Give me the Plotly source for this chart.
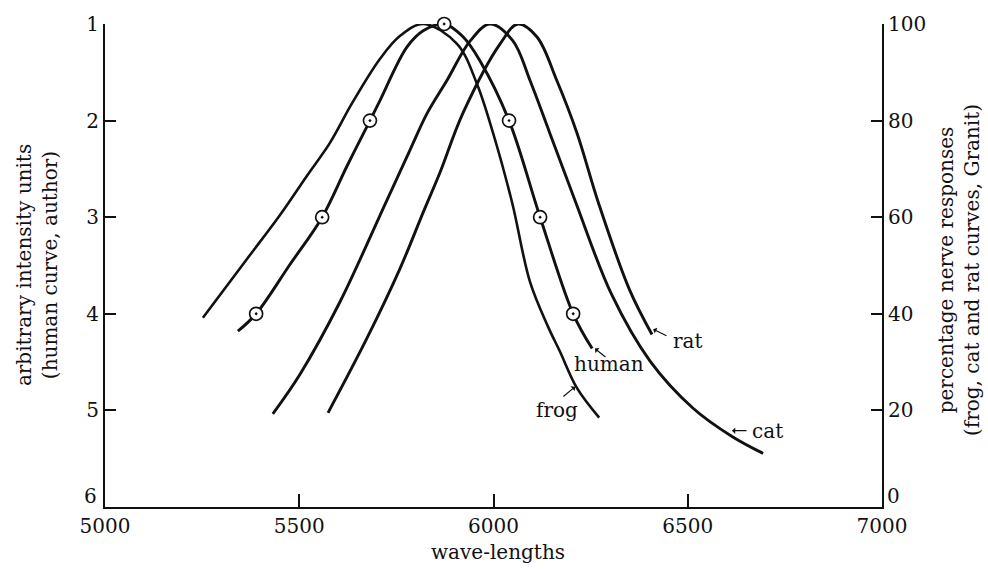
import plotly.graph_objects as go

# ---- data ----
frog_x = [5252, 5365, 5450, 5520, 5579, 5636, 5708, 5759, 5820, 5906, 5957, 5999, 6048, 6094, 6140, 6171, 6215, 6272]
frog_p = [39.2, 51.3, 60.4, 68.6, 75.4, 83.6, 92.8, 97.5, 100, 95.9, 87.7, 77.4, 63, 46.6, 37.4, 32.2, 24.6, 18.5]

human_x = [5342, 5389, 5476, 5559, 5623, 5682, 5708, 5777, 5819, 5873, 5921, 5965, 6040, 6120, 6205, 6254]
human_u = [4.18, 4.0, 3.49, 3.0, 2.47, 2.0, 1.79, 1.24, 1.07, 1.0, 1.13, 1.38, 2.0, 3.0, 4.0, 4.36]

human_pts_x = [5389, 5559, 5682, 5873, 6040, 6120, 6205]
human_pts_u = [4, 3, 2, 1, 2, 3, 4]

cat_x = [5432, 5502, 5605, 5708, 5785, 5829, 5880, 5940, 5991, 6050, 6094, 6145, 6212, 6304, 6403, 6513, 6614, 6694]
cat_p = [19.3, 27.5, 42.5, 60.4, 73.9, 81.5, 88.3, 96.5, 100, 96.5, 88.3, 77.4, 63, 44, 30.2, 20.5, 14.6, 11.1]

rat_x = [5574, 5674, 5759, 5819, 5862, 5921, 6017, 6063, 6112, 6163, 6215, 6270, 6350, 6408]
rat_p = [19.5, 34.9, 49.3, 61, 69.2, 81.5, 95.9, 100, 97.3, 88.3, 77.4, 63, 45, 35.7]

x_ticks = [5000, 5500, 6000, 6500, 7000]
left_ticks = [1, 2, 3, 4, 5, 6]
left_text = ["1", "2", "3", "4", "5", ""]      # "6" placed slightly raised, as in the reference
right_ticks = [0, 20, 40, 60, 80, 100]
right_text = ["", "20", "40", "60", "80", "100"]  # "0" placed slightly raised

# curve labels: (text, text_x, text_y, tip_x, tip_y, tail_x, tail_y, axis)
labels = [
    ("frog", 6163, 20.0, 6210, 24.9, 6176, 22.6, "y2"),
    ("human", 6297, 4.52, 6261, 4.36, 6292, 4.46, "y"),
    ("rat", 6501, 34.3, 6411, 36.8, 6449, 35.3, "y2"),
    ("cat", 6704, 15.8, 6614, 15.8, 6655, 15.8, "y2"),
]

FONT = "DejaVu Serif"
INK = "#111111"

fig = go.Figure()
line_style = dict(color=INK, width=2.9, shape="spline", smoothing=1.0)

fig.add_trace(go.Scatter(x=frog_x, y=frog_p, mode="lines", line=dict(line_style, width=2.6),
                         yaxis="y2", name="frog", cliponaxis=False))
fig.add_trace(go.Scatter(x=cat_x, y=cat_p, mode="lines", line=line_style,
                         yaxis="y2", name="cat", cliponaxis=False))
fig.add_trace(go.Scatter(x=rat_x, y=rat_p, mode="lines", line=line_style,
                         yaxis="y2", name="rat", cliponaxis=False))
fig.add_trace(go.Scatter(x=human_x, y=human_u, mode="lines", line=line_style,
                         yaxis="y", name="human", cliponaxis=False))
fig.add_trace(go.Scatter(x=human_pts_x, y=human_pts_u, mode="markers", yaxis="y",
                         marker=dict(symbol="circle-dot", size=13, color="white",
                                     line=dict(color=INK, width=1.7)),
                         cliponaxis=False))

annotations = []
for text, tx, ty, hx, hy, ax, ay, yr in labels:
    annotations.append(dict(x=tx, y=ty, xref="x", yref=yr, text=text, showarrow=False,
                            font=dict(family=FONT, size=20, color=INK),
                            xanchor="center", yanchor="middle"))
    annotations.append(dict(x=hx, y=hy, xref="x", yref=yr, ax=ax, ay=ay, axref="x", ayref=yr,
                            text="", showarrow=True, arrowhead=1, arrowsize=0.9,
                            arrowwidth=1.2, arrowcolor=INK))

# raised bottom tick labels
annotations.append(dict(x=0, y=6, xref="paper", yref="y", text="6", showarrow=False,
                        xanchor="right", yanchor="bottom", xshift=-6, yshift=-3,
                        font=dict(family=FONT, size=20, color=INK)))
annotations.append(dict(x=1, y=0, xref="paper", yref="y2", text="0", showarrow=False,
                        xanchor="left", yanchor="bottom", xshift=3, yshift=-3,
                        font=dict(family=FONT, size=20, color=INK)))

annotations.append(dict(x=-0.088, y=0.5, xref="paper", yref="paper",
                        text="arbitrary intensity units<br>(human curve, author)",
                        textangle=-90, showarrow=False, xanchor="center", yanchor="middle",
                        font=dict(family=FONT, size=20, color=INK)))
annotations.append(dict(x=1.1, y=0.49, xref="paper", yref="paper",
                        text="percentage nerve responses<br>(frog, cat and rat curves, Granit)",
                        textangle=-90, showarrow=False, xanchor="center", yanchor="middle",
                        font=dict(family=FONT, size=20, color=INK)))
annotations.append(dict(x=0.506, y=-0.094, xref="paper", yref="paper",
                        text="wave-lengths", showarrow=False, xanchor="center", yanchor="middle",
                        font=dict(family=FONT, size=20, color=INK)))

axis_common = dict(showgrid=False, zeroline=False, showline=True, linecolor=INK, linewidth=2,
                   ticks="inside", tickcolor=INK, tickwidth=1.5,
                   tickfont=dict(family=FONT, size=20, color=INK))

fig.update_layout(
    width=988, height=569,
    margin=dict(l=105, r=106, t=20, b=62),
    paper_bgcolor="white", plot_bgcolor="white",
    showlegend=False,
    xaxis=dict(axis_common, range=[5000, 7000], tickvals=x_ticks, ticklen=13),
    yaxis=dict(axis_common, range=[6, 1], tickvals=left_ticks, ticktext=left_text, ticklen=11),
    yaxis2=dict(axis_common, range=[0, 100], tickvals=right_ticks, ticktext=right_text, ticklen=11,
                overlaying="y", side="right"),
    annotations=annotations,
)

fig.write_html("out.html")
